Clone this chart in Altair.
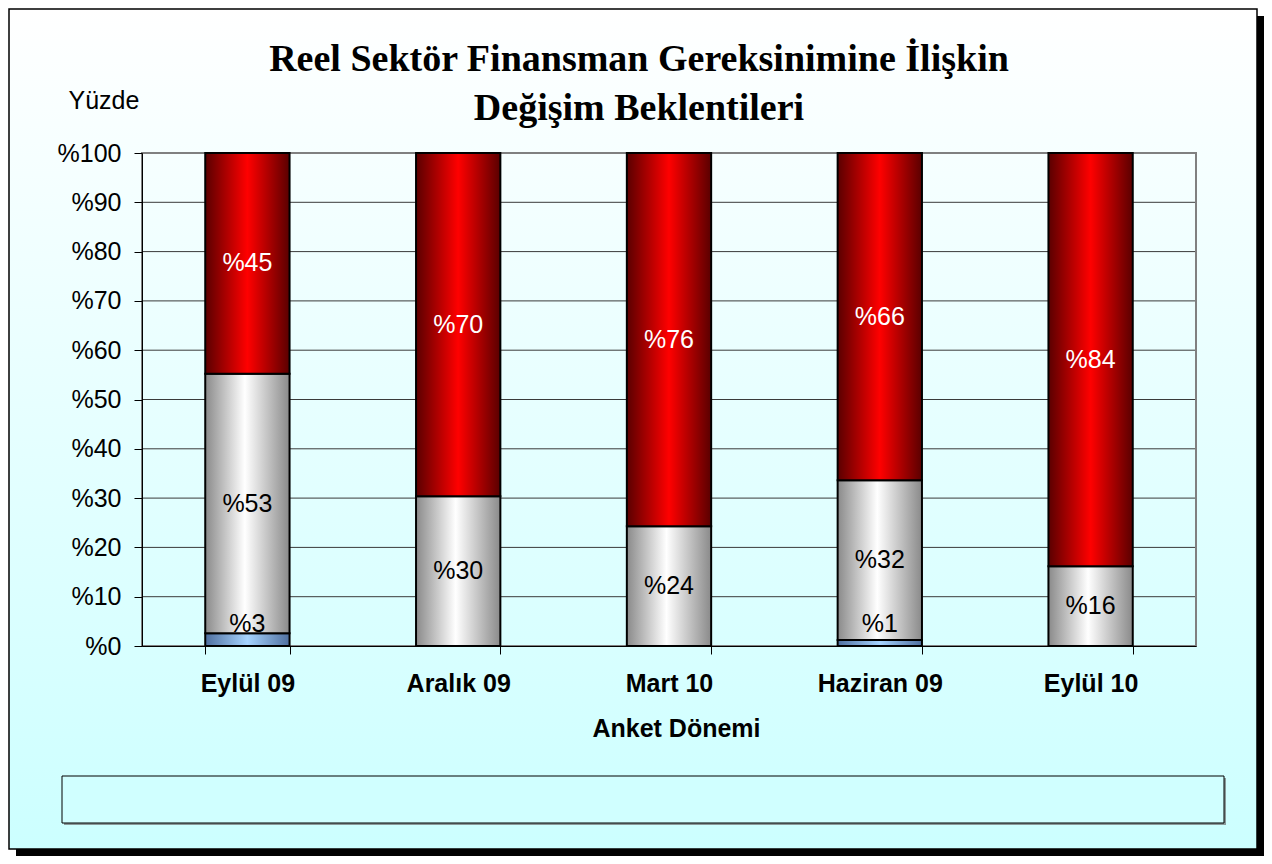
import altair as alt
import pandas as pd

# ---- data ----
periods = ["Eylül 09", "Aralık 09", "Mart 10", "Haziran 09", "Eylül 10"]
series = ["Azalacak", "Değişmeyecek", "Artacak"]
azalacak = [2.6, 0.0, 0.0, 1.2, 0.0]
degismeyecek = [52.6, 30.4, 24.3, 32.4, 16.2]
artacak = [44.8, 69.6, 75.7, 66.4, 83.8]
y_ticks = [0, 10, 20, 30, 40, 50, 60, 70, 80, 90, 100]
grid_values = [10, 20, 30, 40, 50, 60, 70, 80, 90]
title_lines = ["Reel Sektör Finansman Gereksinimine İlişkin", "Değişim Beklentileri"]
y_title = "Yüzde"
x_title = "Anket Dönemi"

rows = []
for i, p in enumerate(periods):
    for k, (s, vals) in enumerate(zip(series, [azalacak, degismeyecek, artacak])):
        rows.append({"period": p, "series": s, "order": k, "value": vals[i]})
df = pd.DataFrame(rows)

W, H = 1054, 493
FONT = "Liberation Sans"
SERIF = "Liberation Serif"

def lg(stops, vertical=False):
    d = {"gradient": "linear",
         "stops": [{"offset": o, "color": c} for o, c in stops]}
    if vertical:
        d.update({"x1": 0, "x2": 0, "y1": 0, "y2": 1})
    else:
        d.update({"x1": 0, "x2": 1, "y1": 0, "y2": 0})
    return d

bg_grad = lg([(0, "#ffffff"), (1, "#ccffff")], vertical=True)
red_grad = lg([(0, "#5a0000"), (0.5, "#ff0000"), (1, "#5a0000")])
gray_grad = lg([(0, "#8a8a8a"), (0.47, "#ffffff"), (1, "#8a8a8a")])
blue_grad = lg([(0, "#4f6f9f"), (0.5, "#a6d4ff"), (1, "#4f6f9f")])

dummy = alt.Data(values=[{"a": 1}])

# frame & shadow
shadow = alt.Chart(dummy).mark_rect(fill="black").encode(
    x=alt.value(-126), x2=alt.value(1122), y=alt.value(-137), y2=alt.value(703))
frame = alt.Chart(dummy).mark_rect(fill=bg_grad, stroke="black", strokeWidth=1.5).encode(
    x=alt.value(-133), x2=alt.value(1115), y=alt.value(-144), y2=alt.value(696))
# empty legend box
leg_shadow = alt.Chart(dummy).mark_rect(fill="#8a9a9a").encode(
    x=alt.value(-78), x2=alt.value(1084), y=alt.value(625), y2=alt.value(672))
leg_box = alt.Chart(dummy).mark_rect(fill="#d0ffff", stroke="black", strokeWidth=1).encode(
    x=alt.value(-80), x2=alt.value(1082), y=alt.value(623), y2=alt.value(670))

# plot border
plot_border = alt.Chart(dummy).mark_rect(fill="transparent", stroke="#808080", strokeWidth=2).encode(
    x=alt.value(0), x2=alt.value(W), y=alt.value(0), y2=alt.value(H))

yscale = alt.Scale(domain=[0, 100], nice=False)
xscale = alt.Scale(domain=periods, paddingInner=0.6, paddingOuter=0.3)

xaxis = alt.Axis(
    title=x_title, labelAngle=0, labelFont=FONT, labelFontSize=25, labelFontWeight="bold",
    labelColor="black", labelBaseline="alphabetic", labelPadding=37,
    tickBand="extent", tickSize=8, tickColor="black", domainColor="black",
    titleFont=FONT, titleFontSize=25, titleFontWeight="bold", titleColor="black",
    titleX=534, titleY=90, titleBaseline="alphabetic", titleAlign="center",
    grid=False, zindex=1,
)
yaxis = alt.Axis(
    title=y_title, values=y_ticks, labelExpr="'%' + datum.value",
    labelFont=FONT, labelFontSize=25, labelColor="black", labelPadding=13,
    tickSize=8, tickColor="black", domainColor="black", grid=False, zindex=1,
    titleAngle=0, titleX=-74, titleY=-45, titleAlign="left", titleBaseline="alphabetic",
    titleFont=FONT, titleFontSize=25, titleFontWeight="normal", titleColor="black",
)

X = alt.X("period:N", scale=xscale, sort=periods, axis=xaxis)

grid = alt.Chart(pd.DataFrame({"v": grid_values})).mark_rule(color="#3a3a3a", strokeWidth=1).encode(
    y=alt.Y("v:Q", scale=yscale, axis=yaxis))

base = alt.Chart(df).transform_stack(
    stack="value", groupby=["period"], as_=["y0", "y1"],
    sort=[alt.SortField("order", order="ascending")]
).transform_calculate(
    lpos="datum.series == 'Azalacak' ? 4.4 : (datum.y0 + datum.y1) / 2",
    label="'%' + format(datum.value, '.0f')"
)

def bars(name, grad):
    return base.transform_filter(alt.datum.series == name).mark_bar(
        fill=grad, stroke="black", strokeWidth=2
    ).encode(
        x=X,
        y=alt.Y("y0:Q", scale=yscale, axis=yaxis),
        y2="y1:Q",
    )

bar_blue = bars("Azalacak", blue_grad)
bar_gray = bars("Değişmeyecek", gray_grad)
bar_red = bars("Artacak", red_grad)

def labels(cond, color):
    return base.transform_filter(cond & (alt.datum.value > 0)).mark_text(
        font=FONT, fontSize=25, color=color, baseline="middle"
    ).encode(
        x=X,
        y=alt.Y("lpos:Q", scale=yscale, axis=yaxis),
        text="label:N",
    )

labels_dark = labels(alt.datum.series != "Artacak", "black")
labels_light = labels(alt.datum.series == "Artacak", "white")

title = alt.Chart(dummy).mark_text(
    text=title_lines, font=SERIF, fontSize=38, fontWeight="bold", color="black",
    align="center", baseline="alphabetic", lineHeight=49,
).encode(x=alt.value(497), y=alt.value(-82))

chart = alt.layer(
    shadow, frame, leg_shadow, leg_box, grid, plot_border,
    bar_blue, bar_gray, bar_red, labels_dark, labels_light, title
).properties(
    width=W, height=H,
    padding={"left": 134, "top": 145, "right": 68, "bottom": 210},
    autosize=alt.AutoSizeParams(type="none"),
).configure_view(stroke=None).configure(background="white")

chart.save("out.html", embed_options={"renderer": "svg", "actions": False})
